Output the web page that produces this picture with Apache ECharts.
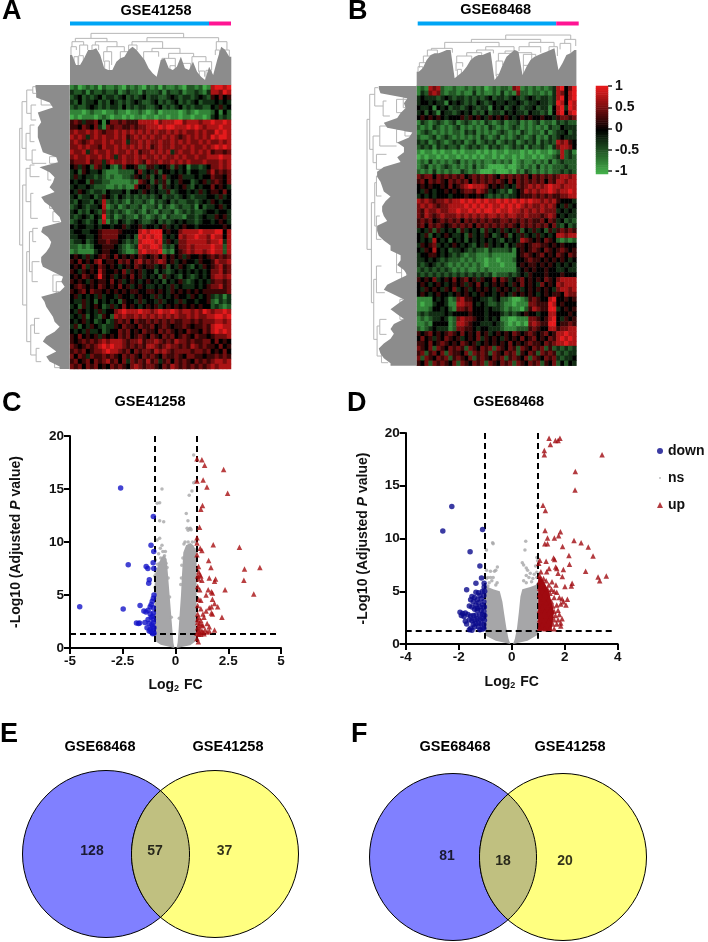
<!DOCTYPE html>
<html><head><meta charset="utf-8">
<style>html,body{margin:0;padding:0;background:#fff}#c{width:708px;height:942px}</style>
<script src="https://cdn.jsdelivr.net/npm/echarts@6/dist/echarts.min.js"></script>
</head><body><div id="c"></div>
<script>
// Heatmap values: one character per block, 0 = -1, 4 = 0, 8 = +1 (blocks of 10 for reading)
const heatA = [
"1201212021 1210212102 1202112102 21201 78878","3223132232 2312322132 2231322312 23213 77687",
"2342323423 3234232342 3322343233 23432 54645","3242334232 4323234322 3423234232 34233 34343",
"2322343232 3324232332 2342323423 23322 43534","1110121101 1211011210 1201111012 10111 24142",
"0101110121 0110101101 1011011011 01101 34232","5653556414 6656555777 7867778867 77677 87787",
"5546546316 5665565667 7787887778 78767 77877","6766767656 6767676767 6766767676 67676 68787",
"7676367676 6767567676 7667676567 67676 87887","6765676676 7667366767 6676676767 66767 66767",
"6676766576 6767676767 5676676676 76676 78787","7667367667 6766767566 7676736766 76767 56656",
"6766766767 6367667676 6767667676 67667 77877","5666756636 7667667657 6676676767 66676 66767",
"4535426534 2136445225 5344525341 33234 66767","3425433421 1122224634 3524434342 44335 75656",
"3534332321 2112235435 2436344533 34344 65546","4344253322 1111121654 2535243544 23453 56546",
"3433432221 1212116445 3425343453 24344 64543","4354323324 3334244354 3433523443 43534 55464",
"3423342354 3243232323 2342332343 23334 43534","3243324372 3232132232 1323423223 32343 54344",
"2343233471 2312322312 2313212322 31423 34534","3423243262 3232123213 2132231232 32234 43443",
"3234324382 3123221321 2321322213 32343 35453","2343234271 3243234322 3423234343 32344 34543",
"4344334344 3445344534 4345343454 43444 44454","3443344566 6654444787 8884544677 77877 78847",
"3344334566 6644342878 7883434767 78776 87747","2334234556 5543232788 8783543667 77776 77837",
"2212124455 5432123877 8872324667 67777 87727","1211113455 4432112787 7781214567 67767 87727",
"4543534565 4645454654 5646454535 44545 65656","5464546745 5465646756 5676453454 43544 57667",
"4546354654 5434546545 5345243543 24354 56756","5435454754 4546354534 4243234343 43434 66756",
"4546545854 5345464534 3425343243 23434 67767","5454354554 6453454345 4342434532 34343 56656",
"4565454654 5464534543 3434353433 34345 66756","5456465545 4545455445 5454354545 45455 55556",
"4534343534 4354434544 3534345443 54345 32313","4335342434 3425443534 4353443534 43445 21323",
"3425345423 5346454345 4534545454 54544 23212","4354343534 4678777877 6787787677 67687 67787",
"3435243254 2767667676 7676767667 67667 78878","4345342342 3565646556 5656565566 56566 67767",
"3524354323 3546554655 6456545565 45565 78877","4343533423 4465645465 5465654546 55465 78787",
"5464545354 5465645654 6546564565 46554 56667","5456565676 7776566756 6765657665 65566 46454",
"6545656787 8776565657 7656766565 76565 54645","5656456678 7765646566 5767656666 56656 45464",
"6465365565 6546565465 6546556546 65545 56565","5645646567 5646365657 5635646565 46565 67767",
"6564656454 6565467656 6546576565 65656 76777"];
const heatB = [
"1217672112 1121212012 1221671212 12123 78468","1326762122 1211312112 1312162212 21213 76478",
"3433323432 3323232342 3323432343 23323 78478","3443433143 4323243234 3343343233 43323 87487",
"4334143423 3234323314 3423432334 23314 78387","3424314332 3434232423 3243433243 32314 78478",
"4545454344 4535454354 5454345454 45443 56656","1321232123 1232121321 2312231212 31221 32322",
"2121321212 3121212132 1212321212 12132 24333","1232121212 2132312121 2321213212 21312 33423",
"2112312321 2121213212 3121232123 12132 34333","3231232123 2312312323 1232312323 13232 76754",
"2323132322 3123232132 3212323132 23213 67764","1011010110 1011101010 1101110101 01101 27231",
"0101101011 0101010110 1011010110 10112 37232","1213121212 3121212112 1212012112 12131 23222",
"1231212321 2121312100 0010012121 31212 22322","2121312121 1321210001 0001021321 21212 23232",
"6566465656 5645656565 4656565646 56565 67767","5646565465 6564656565 6546465656 56465 77677",
"4545445464 5678777645 4534365676 76787 76777","4354344545 4566576534 3231345767 67787 67787",
"3434344434 4454454323 2323345556 56565 56677","7676566767 7878787877 8787878787 76767 54443",
"6767656677 7787878787 7878787676 67676 43534","6576676677 8778787887 8778776767 67666 34343",
"6576567666 7676767677 6767766766 65676 43433","5656456565 6465656565 5665656565 56465 34232",
"5646565456 5656465656 5656546565 65646 32423","3435253434 2534342534 3534352435 34253 56565",
"4352434543 3425343542 3452435343 53434 77677","4343743424 3424343434 3243437654 54654 21212",
"3545634345 4343243534 3424355456 65545 45444","4354743423 3432322132 2223145456 54654 56545",
"3445543432 3212211121 1111145654 56454 65465","3343432322 2121211011 0111244565 54545 45434",
"3234323212 1212121011 1011145455 45454 34343","2323232321 2121121211 1111134545 44544 33433",
"3232323232 3232323231 2223234354 44544 45444","5454634546 4564535446 4653456454 54654 67777",
"4543454345 4535464345 4543546454 36454 76777","4354543546 3453454543 5454353454 54543 67767",
"4543454434 5454345443 4543545454 34545 54766","1111434312 6755443323 4221001256 54478 44545",
"1011344311 7766434322 3211011166 55587 45444","1112443421 6656444343 3212110257 65588 34545",
"2323333434 4445444344 4323234544 34477 44454","1212334312 6766544343 4110011166 54578 43545",
"1121444412 7765443334 3210101067 65588 45565","2123433312 6655434433 3211122256 54477 56677",
"5456454565 4645464534 5454654565 45645 77877","4645354654 5345463545 4354546456 45465 78787",
"5546456545 4654534545 4546454565 54656 77877","6546265465 6526546562 6546526546 56252 32323",
"5625646265 5462656526 5465625465 26565 23233","6265465625 6546256546 5625654626 54656 32334",
"5462656546 2654656265 4656265465 62546 24243"];
const colorbarLevels = [-1,-0.95,-0.9,-0.85,-0.8,-0.75,-0.7,-0.65,-0.6,-0.55,-0.5,-0.45,-0.4,-0.35,-0.3,-0.25,-0.2,-0.15,-0.1,-0.05,0,0.05,0.1,0.15,0.2,0.25,0.3,0.35,0.4,0.45,0.5,0.55,0.6,0.65,0.7,0.75,0.8,0.85,0.9,0.95,1];

// Dendrogram merges: [position1, position2, joinHeight, childHeight1, childHeight2]
const topTreeA = [[63,341,155,140,142],[16,111,140,130,130],[231,446,142,130,130],[6,41,130,115,120],[76,141,130,120,115],[186,278,130,120,110],[439,471,130,105,105],[3,19,115,90,105],[29,53,120,90,105],[66,86,120,90,105],[111,163,115,100,100],[176,201,120,105,105],[246,330,110,100,95],[296,371,95,80,85],[366,408,85,60,70],[221,266,100,70,85],[101,125,100,70,60],[151,175,100,70,65],[276,316,80,60,55],[336,362,65,45,50],[386,425,70,40,45],[436,449,105,90,75],[462,478,105,90,75],[12,24,85,60,55],[26,40,88,55,60],[104,118,72,45,40],[300,316,58,35,30],[338,350,46,25,30],[388,404,42,20,25],[408,424,44,15,25]];
const topTreeB = [[267,462,153,140,140],[164,372,140,131,131],[84,247,131,113,118],[44,107,113,108,100],[207,292,118,108,105],[337,412,131,118,118],[307,372,118,105,100],[397,422,118,100,90],[444,477,140,128,120],[430,462,128,110,100],[32,62,108,90,95],[20,44,90,70,78],[8,30,70,55,60],[180,230,108,100,98],[150,195,100,90,90],[120,165,90,70,80],[118,138,70,45,58],[265,300,105,98,95],[245,283,98,75,90],[238,258,75,30,63],[290,345,100,95,78],[320,357,95,60,90],[4,18,58,35,40],[122,134,50,25,35],[240,250,35,15,20],[320,335,62,35,45]];
const leftTreeA = [[130,480,149,142,140],[50,190,142,128,130],[15,85,128,110,115],[5,25,110,100,100],[60,105,115,100,100],[145,225,130,118,112],[120,170,118,105,105],[195,235,112,100,70],[300,660,140,130,128],[250,350,130,118,116],[240,275,118,105,90],[325,400,116,108,95],[500,770,128,120,116],[440,560,120,110,112],[430,470,110,95,100],[530,590,112,90,95],[720,810,116,105,100],[700,745,105,90,90],[790,830,100,90,85],[40,60,85,55,50],[215,235,60,40,30],[340,370,60,50,40],[380,410,50,40,30],[570,620,50,25,30],[590,640,40,20,20],[255,285,65,45,55],[260,275,45,30,30],[330,345,48,35,30],[830,848,45,30,25]];
const leftTreeB = [[100,490,148,140,135],[25,190,140,125,130],[5,60,125,115,100],[45,90,100,90,80],[150,230,130,110,120],[120,180,110,90,60],[205,250,120,90,105],[350,650,135,125,128],[290,420,125,120,120],[270,330,120,110,105],[390,460,120,110,105],[580,760,128,120,118],[540,620,120,105,95],[720,810,118,110,105],[700,745,110,90,90],[790,830,105,95,85],[40,80,60,30,40],[130,170,60,40,20],[480,560,60,40,45],[520,590,45,30,35],[640,700,50,40,40],[35,65,40,25,25],[135,150,35,15,15],[555,570,30,25,20]];
// Dense dendrogram leaves: reach of the solid grey area per bin
const topFillA = [90,60,60,80,105,105,110,90,50,45,45,70,80,85,105,115,105,90,75,50,35,25,75,80,50,45,55,85,50,45,70,40,25,15,55,30,75,115,105,85];
const topFillB = [43,53,78,93,98,98,103,108,108,23,33,43,58,78,88,93,93,98,103,18,33,63,88,98,108,103,33,58,78,88,93,98,103,108,113,48,68,93,98,108];
const leftFillA = [102,100,100,60,50,95,90,85,95,95,95,90,85,80,40,35,90,60,45,50,60,45,85,75,55,45,30,25,80,85,65,55,60,70,85,85,80,50,20,25,15,30,85,75,70,60,50,45,30,45,70,80,60,40,70,60,30];
const leftFillB = [113,108,28,38,33,48,58,98,88,13,23,58,38,38,58,48,98,118,118,108,103,98,78,93,103,103,98,88,118,118,113,98,78,78,48,48,58,38,28,58,88,98,68,38,58,78,58,38,68,78,68,78,98,113,108,98,78];
const groupWidthsA = [139,22];
const groupWidthsB = [138.5,22.5];

// Volcano C (GSE41258)
const cDown = [[-2.6,15.1],[-4.54,3.9],[-2.48,3.67],[-2.24,7.85],[-1.05,12.4],[-1.16,9.7],[-1.03,9.1],[-1.06,8.05],[-1.39,7.7],[-1.31,7.5],[-1.03,7.5],[-1.24,6.45],[-1.27,6.1],[-1.02,5],[-1.05,4.7],[-1.1,4.4],[-1.15,4.1],[-1.2,3.9],[-1.68,4],[-1.05,3.8],[-1.3,3.55],[-1.5,3.5],[-1.4,3.4],[-1.05,3.3],[-1.2,3.2],[-1.15,2.9],[-1.05,2.7],[-1.3,2.7],[-1.05,2.4],[-1.85,2.35],[-1.75,2.3],[-1.7,2.35],[-1.45,2.4],[-1.35,1.9],[-1.1,2],[-1.2,1.75],[-1.05,1.6],[-1.15,1.5],[-1.02,1.4],[-1.08,1.35],[-1.25,1.6],[-1.12,2.2],[-1.08,3],[-1.25,2.3],[-1.02,1.9]];
const cUp = [[1.02,17.85],[1.25,17.75],[1.38,17.25],[2.28,16.85],[2.47,14.6],[1.02,15.75],[1.31,15.85],[1.49,15.2],[1.28,13.45],[1.2,13.1],[1.14,11.4],[1.02,10.4],[1.02,9.9],[1.17,9.4],[1.25,9.2],[1.02,8.8],[1.79,9.75],[3.03,9.5],[1.57,8.25],[1.09,7.7],[1.68,7.6],[4,7.6],[3.27,7.45],[3.24,6.4],[2.35,5.5],[3.71,5.1],[1.1,7.2],[1.15,6.9],[1.05,6.8],[1.2,6.8],[1.1,6.5],[1.25,6.4],[1.6,6.6],[1.9,6.5],[1.85,6.3],[1.05,5.8],[1.15,5.5],[1.55,5.5],[1.7,5.3],[1.45,5],[1.75,5.2],[1.1,4.6],[1.2,4.5],[1.75,4.6],[1.85,4.2],[2,3.9],[1.6,3.8],[1.7,3.9],[1.45,3.5],[1.05,4],[1.2,3.7],[1.3,3.2],[1.7,3.3],[1.75,3.2],[2.2,2.9],[1.05,3.2],[1.1,2.9],[1.2,2.6],[1.35,2.9],[1.5,2.3],[1.05,2.4],[1.15,2.3],[1.3,2.1],[1.6,2],[1.85,1.7],[1.05,1.9],[1.15,1.8],[1.25,1.6],[1.4,1.7],[1.5,1.5],[1.6,1.6],[1.02,1.4],[1.1,1.3],[1.2,1.3],[1.35,1.35],[1.08,0.6],[1.02,0.9],[1.15,1.45],[1.08,1.6],[1.3,1.5],[1.05,2.7],[1.25,2.2],[1.1,2.1]];
const cNs = [[-0.64,15],[-0.87,13.65],[-0.75,13.7],[-0.75,12],[-0.56,11.9],[-0.87,10.2],[-0.75,10.35],[-0.72,9.4],[-0.64,9.7],[-0.48,9.1],[-0.95,8.3],[-0.8,8.9],[-0.6,9.1],[-0.45,8],[-0.4,7.6],[-0.85,7.9],[-0.7,8.5],[-0.98,6.8],[-0.92,7],[-0.97,5.7],[-0.98,4.6],[-0.52,8.7],[-0.35,6.6],[-0.28,4.8],[-0.2,2.9],[-0.88,7.4],[-0.75,8],[0.86,18.2],[0.86,15.6],[0.78,14.8],[0.65,14.4],[0.51,12.7],[0.59,12],[0.55,11.3],[0.67,11.25],[0.74,11.15],[0.6,11.1],[0.7,11.3],[0.95,15.7],[0.4,9.8],[0.45,10],[0.6,10],[0.8,10],[0.95,10],[0.9,9.3],[0.98,8.9],[0.35,8.5],[0.3,7.8],[0.25,6],[0.18,2.8],[0.28,6.6]];
const cNsWingL = [[-0.05,0],[-0.1,0.5],[-0.14,1.5],[-0.2,3],[-0.28,5],[-0.36,7],[-0.42,8.4],[-0.55,8.8],[-0.68,8.5],[-0.85,7.7],[-0.98,6.6],[-1,5],[-1,1.5],[-1,0.7],[-0.7,0.3]];
const cNsWingR = [[0.05,0],[0.1,0.5],[0.14,1.5],[0.19,3],[0.26,5],[0.31,7],[0.37,9],[0.5,9.7],[0.7,9.9],[0.85,9.7],[1,9],[1,0.7],[0.7,0.25]];

// Volcano D (GSE68468)
const dDown = [[-2.26,13.03],[-2.6,10.7],[-1.1,10.85],[-1.57,8.75],[-1.2,7.4],[-1.14,6.25],[-1.35,5.75],[-1.04,5.75],[-1.7,5.15],[-1.04,5.4],[-1.1,5],[-1.02,5],[-1.25,4.85],[-1.35,4.9],[-1.5,4.5],[-1.2,4.6],[-1.4,4.4],[-1.05,4.6],[-1.3,4.2],[-1.55,4.2],[-1.15,4.3],[-1.45,4],[-1.25,3.9],[-1.05,4],[-1.35,3.7],[-1.6,3.6],[-1.5,3.5],[-1.2,3.5],[-1.1,3.7],[-1.03,3.5],[-1.4,3.3],[-1.3,3.2],[-1.15,3.2],[-1.05,3.1],[-1.95,3],[-1.85,2.9],[-1.75,2.95],[-1.65,2.8],[-1.9,2.7],[-1.8,2.6],[-1.55,2.65],[-1.45,2.7],[-1.35,2.75],[-1.2,2.8],[-1.1,2.8],[-1.02,2.7],[-1.6,2.3],[-1.75,2.15],[-1.5,2.2],[-1.4,2.3],[-1.3,2.4],[-1.2,2.35],[-1.1,2.4],[-1.03,2.25],[-1.7,1.9],[-1.45,1.85],[-1.35,1.95],[-1.25,2],[-1.15,1.9],[-1.05,1.85],[-1.55,1.5],[-1.5,1.3],[-1.6,1.35],[-1.2,1.35],[-1.1,1.4],[-1.25,1.6],[-1.05,1.5],[-1.4,1.6],[-1.3,3.4]];
const dUp = [[1.41,19.5],[1.65,19.3],[1.75,19.3],[1.82,19.5],[1.46,18.9],[1.23,18.35],[1.23,17.95],[3.41,17.95],[2.4,16.35],[2.39,14.6],[1.18,13.15],[1.27,12.65],[1.26,10.75],[1.84,10.65],[1.61,10.05],[1.77,10.25],[1.35,10.05],[2.35,9.8],[2.62,9.6],[2.89,9.2],[1.92,9.25],[1.25,9.5],[1.35,9.5],[3.07,8.35],[2.16,8.4],[1.06,7.95],[1.58,8.15],[1.62,8],[1.3,7.85],[2.18,7.55],[1.02,7.65],[2.79,6.9],[1.95,7.05],[1.66,7.3],[1.7,7.15],[1.41,7.15],[3.57,6.45],[3.26,6.35],[3.32,6],[1.75,6.7],[1.1,6.85],[1.32,6.85],[1.91,6.4],[1.52,5.9],[1.67,5.6],[2.01,5.45],[2.28,5.75],[2.25,5.5],[1.05,6.5],[1.1,6.2],[1.2,6.2],[1.3,6],[1.05,5.9],[1.15,5.7],[1.4,5.6],[1.25,5.4],[1.05,5.3],[1.5,5.2],[1.35,5.2],[1.15,5.1],[1.6,5],[1.7,4.9],[1.45,4.8],[1.25,4.8],[1.05,4.7],[1.8,4.4],[1.9,4.3],[2.1,4.25],[1.95,4],[2.05,3.7],[1.85,3.8],[1.6,4.4],[1.4,4.3],[1.2,4.3],[1.5,4],[1.3,3.9],[1.1,4],[1.7,3.7],[1.55,3.6],[1.35,3.5],[1.15,3.5],[1.75,3.2],[1.6,3.1],[1.45,3.2],[1.25,3.1],[1.05,3.2],[1.8,2.8],[1.65,2.7],[1.5,2.7],[1.3,2.7],[1.1,2.7],[1.9,2.4],[1.75,2.3],[1.6,2.3],[1.4,2.2],[1.2,2.2],[1.05,2.3],[1.85,2],[1.7,1.9],[1.55,1.9],[1.3,1.8],[1.15,1.8],[1.45,1.5],[1.6,1.45],[1.25,1.45],[1.05,1.5],[1.85,1.7]];
const dNs = [[-0.7,9.5],[-0.72,9.6],[-0.95,8.9],[-0.54,7.3],[-0.6,7],[-0.65,6.9],[-0.8,6.9],[-0.9,6.3],[-0.8,6.3],[-0.7,6.3],[-0.95,6.2],[-0.75,6],[-0.55,5.8],[-0.6,5.6],[-0.85,5.8],[-0.95,7],[-0.9,5.5],[0.53,9.75],[0.5,8.9],[0.4,7.7],[0.45,7.5],[0.55,7.2],[0.6,7],[0.95,8.2],[0.98,7.9],[0.9,7.4],[0.95,6.8],[0.7,6.7],[0.55,6.5],[0.85,6.6],[0.65,6.3],[0.8,6.2],[0.95,6.3],[0.45,6],[0.55,5.8],[0.75,5.9],[0.98,13.1]];
const dNsWingL = [[-0.05,0],[-0.12,0.5],[-0.2,1.5],[-0.28,2.8],[-0.35,4],[-0.45,5],[-0.7,5.2],[-0.9,5.4],[-1,5.6],[-1,0.8],[-0.6,0.3]];
const dNsWingR = [[0.05,0],[0.12,0.5],[0.2,1.5],[0.27,3],[0.33,4.5],[0.4,5.2],[0.7,5.4],[0.9,5.6],[1,6],[1,0.9],[0.6,0.3]];
const dUpCore = [[1,1.25],[1.5,1.25],[1.6,3],[1.4,5],[1.2,6],[1,6.5]];
const fcCut = 1, pCut = 1.3;

// Venn: counts and circle geometry
const vennCountsE = [128,57,37], vennCountsF = [81,18,20];

const FONT = '"Liberation Sans", Arial, sans-serif';
const grid=[], xAxis=[], yAxis=[], series=[];
function addGrid(g, x, y){ grid.push(g); const i=grid.length-1;
  xAxis.push(Object.assign({gridIndex:i,show:false},x)); yAxis.push(Object.assign({gridIndex:i,show:false},y)); return i; }

// Heatmaps
function heat(rows, g){
  const clean = rows.map(r=>r.replace(/ /g,''));
  const nc = clean[0].length, nr = clean.length;
  const cols = Array.from({length:nc},(_,i)=>i), rws = Array.from({length:nr},(_,i)=>i);
  const i = addGrid(g,{type:'category',data:cols},{type:'category',data:rws,inverse:true});
  const data=[]; clean.forEach((r,y)=>{ for(let x=0;x<nc;x++) data.push([x,y,(+r[x]-4)/4]); });
  series.push({type:'heatmap',xAxisIndex:i,yAxisIndex:i,data,progressive:0,emphasis:{disabled:true}});
  return series.length-1;
}
const heatIdx=[heat(heatA,{left:70,top:85,width:161,height:284}),heat(heatB,{left:416.7,top:86,width:159.7,height:279.7})];

// Dendrograms
function dendro(merges, fill, g, orient, span, depth){
  const vert = orient==='top';
  const i = addGrid(g,
    vert?{type:'value',min:0,max:span}:{type:'value',min:0,max:depth,inverse:true},
    vert?{type:'value',min:0,max:depth}:{type:'value',min:0,max:span,inverse:true});
  const P=(p,d)=>vert?[p,d]:[d,p];
  series.push({type:'custom',xAxisIndex:i,yAxisIndex:i,z:2,silent:true,data:merges,
    renderItem:(ps,api)=>{ const a=api.value(0),b=api.value(1),d=api.value(2),d1=api.value(3),d2=api.value(4);
      return {type:'polyline',shape:{points:[P(a,d1),P(a,d),P(b,d),P(b,d2)].map(q=>api.coord(q))},style:{fill:null,stroke:'#b6b6b6',lineWidth:1}}; }});
  const bin = span/fill.length;
  series.push({type:'custom',xAxisIndex:i,yAxisIndex:i,z:3,silent:true,data:[[0,0]],
    renderItem:(ps,api)=>{ const pts=[P(0,0),P(0,fill[0])];
      fill.forEach((h,k)=>pts.push(P((k+0.5)*bin,h)));
      pts.push(P(span,fill[fill.length-1]),P(span,0));
      return {type:'polygon',shape:{points:pts.map(q=>api.coord(q))},style:{fill:'#8c8c8c'}}; }});
}
dendro(topTreeA,topFillA,{left:70,top:31.7,width:161.3,height:53.3},'top',484,160);
dendro(topTreeB,topFillB,{left:416.7,top:32.7,width:159.7,height:53.3},'top',479,160);
dendro(leftTreeA,leftFillA,{left:16,top:85,width:53.7,height:284},'left',852,160);
dendro(leftTreeB,leftFillB,{left:363,top:86,width:53.7,height:279.7},'left',839,160);

// Colorbar
const cb = addGrid({left:596,top:86,width:12,height:88},{type:'category',data:['c']},{type:'category',data:colorbarLevels});
series.push({type:'heatmap',xAxisIndex:cb,yAxisIndex:cb,data:colorbarLevels.map((v,k)=>[0,k,v]),emphasis:{disabled:true}});
const cbIdx = series.length-1;

// Group bars
function groupBar(w,g){
  const i=addGrid(g,{type:'value',min:0,max:w[0]+w[1]},{type:'category',data:['group']});
  series.push({type:'bar',name:'tumor',stack:'g'+i,xAxisIndex:i,yAxisIndex:i,barWidth:'100%',silent:true,data:[w[0]],itemStyle:{color:'#00a5f5'}});
  series.push({type:'bar',name:'normal',stack:'g'+i,xAxisIndex:i,yAxisIndex:i,barWidth:'100%',silent:true,data:[w[1]],itemStyle:{color:'#ff1493'}});
}
groupBar(groupWidthsA,{left:70,top:21.5,width:161,height:4});
groupBar(groupWidthsB,{left:417.7,top:21.5,width:161,height:4});

// Volcano plots
const axisLabel={color:'#111',fontFamily:FONT,fontWeight:'bold',fontSize:13.5,margin:6};
const axisBase={show:true,axisLine:{show:true,onZero:false,lineStyle:{color:'#000',width:2}},axisTick:{show:true,length:6,lineStyle:{color:'#000',width:2}},splitLine:{show:false},axisLabel};
const nameRich={a:{fontFamily:FONT,fontWeight:'bold',fontSize:14,color:'#111'},i:{fontFamily:FONT,fontWeight:'bold',fontStyle:'italic',fontSize:14,color:'#111'},s:{fontFamily:FONT,fontWeight:'bold',fontSize:9,color:'#111',padding:[7,1,0,0]}};
function polygon(i,pts,color,z){
  series.push({type:'custom',xAxisIndex:i,yAxisIndex:i,z,silent:true,data:[[0,0]],
    renderItem:(ps,api)=>({type:'polygon',shape:{points:pts.map(q=>api.coord(q))},style:{fill:color}})});
}
function volcano(g,xr,yNameGap,xNameGap,ns,wings,down,up,core,downColor,upColor,hEnd){
  const i=addGrid(g,
    Object.assign({},axisBase,{type:'value',min:xr[0],max:xr[1],interval:xr[2],name:'{a|Log}{s|2}{a| FC}',nameLocation:'middle',nameGap:xNameGap,nameTextStyle:{rich:nameRich}}),
    Object.assign({},axisBase,{type:'value',min:0,max:20,interval:5,name:'{a|-Log10 (Adjusted }{i|P}{a| value)}',nameLocation:'middle',nameGap:yNameGap,nameTextStyle:{rich:nameRich}}));
  wings.forEach(w=>polygon(i,w,'#a6a6a8',3));
  if(core) polygon(i,core,upColor,5);
  series.push({type:'scatter',name:'ns',xAxisIndex:i,yAxisIndex:i,z:4,data:ns,symbol:'circle',symbolSize:3.5,itemStyle:{color:'#a6a6a8'},silent:true,
    markLine:{silent:true,symbol:'none',animation:false,label:{show:false},lineStyle:{color:'#000',type:[6,4],width:2},
      data:[[{coord:[-fcCut,20]},{coord:[-fcCut,0.5]}],[{coord:[fcCut,20]},{coord:[fcCut,0.5]}],[{coord:[xr[0],pCut]},{coord:[hEnd,pCut]}]]}});
  series.push({type:'scatter',name:'down',xAxisIndex:i,yAxisIndex:i,z:5,data:down,symbol:'circle',symbolSize:5.5,itemStyle:{color:downColor},silent:true});
  series.push({type:'scatter',name:'up',xAxisIndex:i,yAxisIndex:i,z:6,data:up,symbol:'triangle',symbolSize:5.5,itemStyle:{color:upColor},silent:true});
}
volcano({left:70,top:436,width:211,height:212},[-5,5,2.5],47,29,cNs,[cNsWingL,cNsWingR],cDown,cUp,null,'#1414c8','#a80f12',4.8);
volcano({left:405.7,top:433,width:212,height:211},[-4,4,2],36,30,dNs,[dNsWingL,dNsWingR],dDown,dUp,dUpCore,'#0a0a8c','#a00a10',3.8);

// Venn diagrams
function venn(g,cA,cB,r,counts,pos){
  const i=addGrid(g,{type:'value',min:0,max:g.width},{type:'value',min:0,max:g.height,inverse:true});
  series.push({type:'custom',xAxisIndex:i,yAxisIndex:i,z:2,silent:true,data:[[cA[0],cA[1],r,0],[cB[0],cB[1],r,1]],
    renderItem:(ps,api)=>{ const c=api.coord([api.value(0),api.value(1)]), R=api.size([api.value(2),0])[0];
      return {type:'circle',shape:{cx:c[0],cy:c[1],r:R},style:{fill:api.value(3)?'#ffff80':'#8080ff',stroke:'#000',lineWidth:1}}; }});
  series.push({type:'custom',xAxisIndex:i,yAxisIndex:i,z:3,silent:true,data:[[0,0]],
    renderItem:(ps,api)=>{ const half=(cB[0]-cA[0])/2, a=Math.acos(half/r), pts=[];
      for(let k=0;k<=40;k++){const t=-a+2*a*k/40; pts.push(api.coord([cA[0]+r*Math.cos(t),cA[1]+r*Math.sin(t)]));}
      for(let k=0;k<=40;k++){const t=Math.PI-a+2*a*k/40; pts.push(api.coord([cB[0]+r*Math.cos(t),cB[1]+r*Math.sin(t)]));}
      return {type:'polygon',shape:{points:pts},style:{fill:'#c0c080',stroke:'#000',lineWidth:1}}; }});
  series.push({type:'scatter',xAxisIndex:i,yAxisIndex:i,z:4,silent:true,symbolSize:0,data:counts.map((v,k)=>[pos[k][0],pos[k][1],v]),
    label:{show:true,position:'inside',formatter:p=>String(p.value[2]),fontFamily:FONT,fontWeight:'bold',fontSize:14,color:'#000'}});
}
venn({left:22,top:771,width:277,height:166},[84,83],[193,83],83.5,vennCountsE,[[70,80],[133,80],[202.5,80]]);
venn({left:370,top:773,width:277,height:167},[83,84],[193,84],83.5,vennCountsF,[[77,83],[133,88],[195,88]]);

// Colorbar tick axis shares the colorbar grid
yAxis.push({gridIndex:cb,type:'value',position:'right',min:-1.07,max:1,interval:0.5,
  axisLine:{show:false},axisTick:{show:true,length:4,customValues:[-1,-0.5,0,0.5,1],lineStyle:{color:'#222',width:1.5}},splitLine:{show:false},
  axisLabel:{color:'#111',fontFamily:FONT,fontWeight:'bold',fontSize:14,margin:7,
    customValues:[-1,-0.5,0,0.5,1],formatter:v=>String(v)}});
series.push({type:'scatter',xAxisIndex:cb,yAxisIndex:yAxis.length-1,data:[],silent:true});

function T(text,x,y,size,align){ return {text,left:x,top:y,padding:0,textAlign:align||'center',textVerticalAlign:'middle',textStyle:{fontFamily:FONT,fontWeight:'bold',fontSize:size,color:'#000'}}; }
const title=[
  T('A',2,12,27,'left'),T('B',348,12,27,'left'),T('C',2,404,27,'left'),T('D',347,404,27,'left'),T('E',0,735,27,'left'),T('F',351,735,27,'left'),
  T('GSE41258',156,11,14.5),T('GSE68468',495.7,10,14.5),T('GSE41258',150,402,14.5),T('GSE68468',508.7,402,14.5),
  T('GSE68468',100,747,14.5),T('GSE41258',228,747,14.5),T('GSE68468',455,747,14.5),T('GSE41258',570,747,14.5)];

const tinyDot='path://M0,0L0,0M10,10L10,10M3.5,5a1.5,1.5 0 1,0 3,0a1.5,1.5 0 1,0 -3,0z';
echarts.init(document.getElementById('c'),null,{renderer:'canvas'}).setOption({
  animation:false,backgroundColor:'#fff',title,grid,xAxis,yAxis,series,
  tooltip:{show:false},
  visualMap:{show:false,type:'continuous',min:-1,max:1,seriesIndex:[heatIdx[0],heatIdx[1],cbIdx],dimension:2,
    inRange:{color:['#43ae4a','#000000','#e41a1c']}},
  legend:{left:652,top:439,orient:'vertical',itemWidth:6,itemHeight:6,itemGap:13,selectedMode:false,
    textStyle:{fontFamily:FONT,fontWeight:'bold',fontSize:14,color:'#111'},
    data:[{name:'down',icon:'circle',itemStyle:{color:'#0a0a8c'}},{name:'ns',icon:tinyDot,itemStyle:{color:'#a6a6a8'}},{name:'up',icon:'triangle',itemStyle:{color:'#a00a10'}}]}
});
</script></body></html>
